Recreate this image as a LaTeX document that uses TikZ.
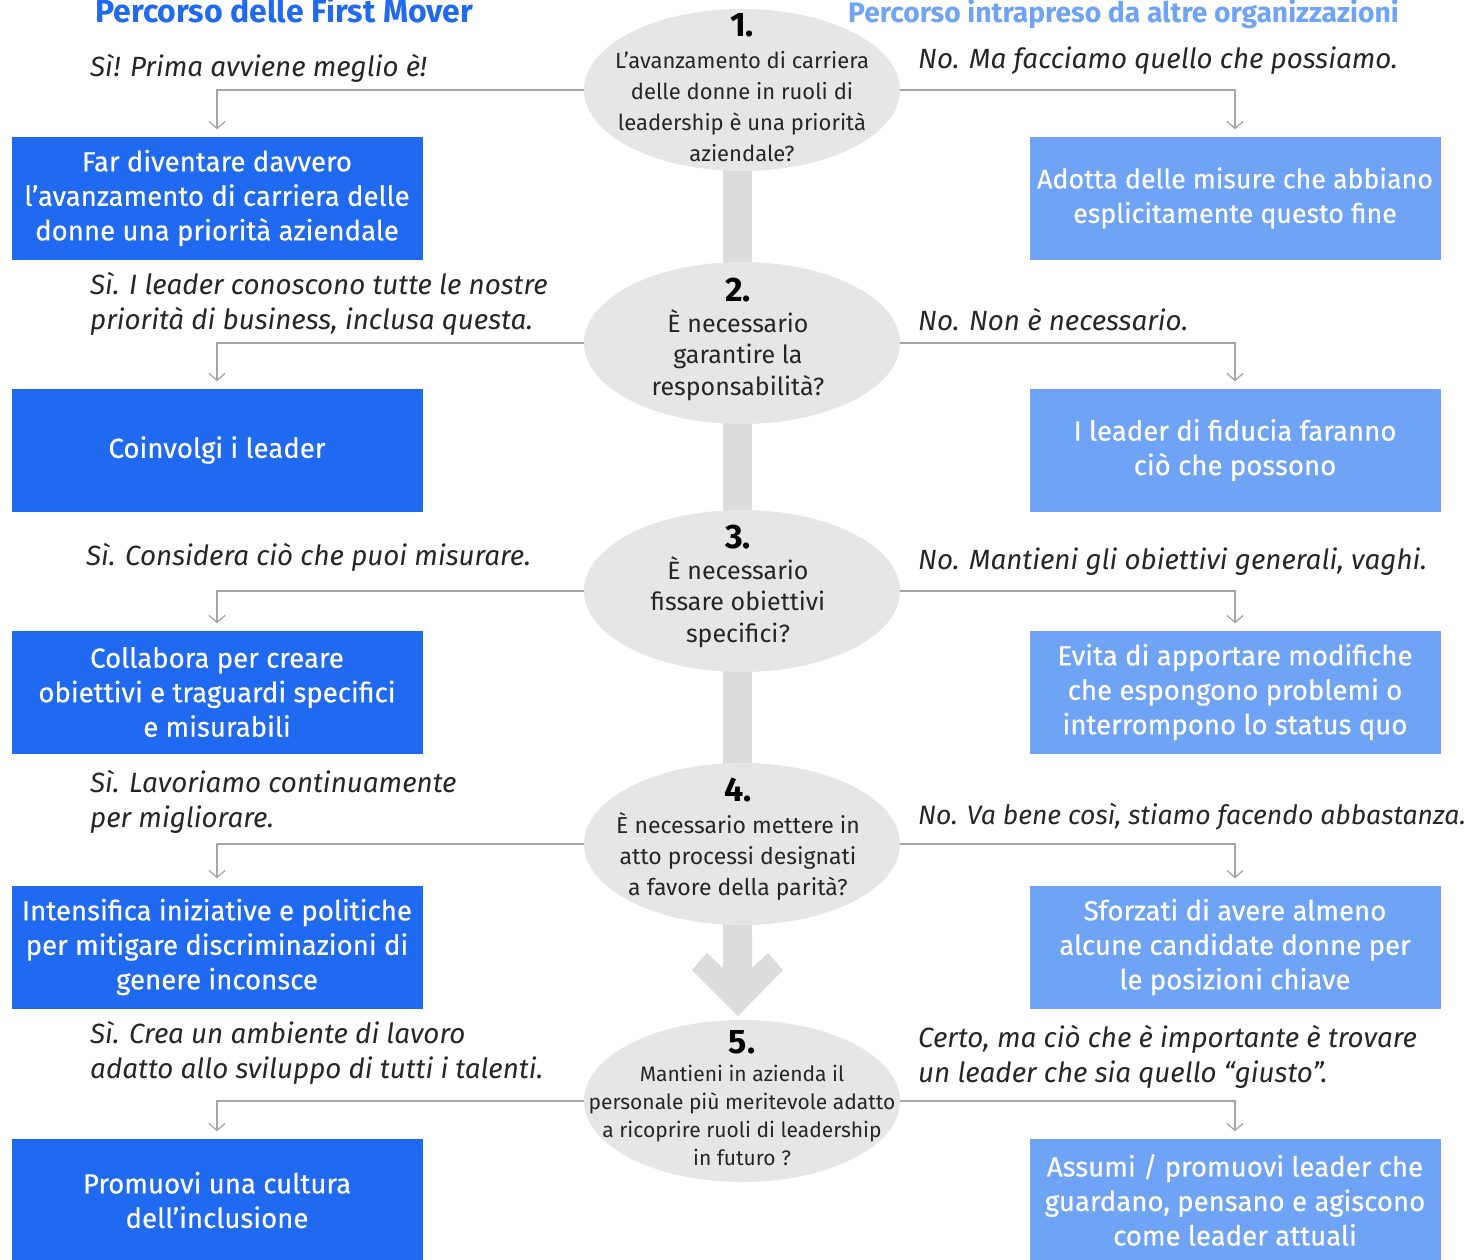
\documentclass[tikz,border=0pt]{standalone}
\usepackage{fontspec}
\setmainfont{Fira Sans}
\newfontfamily\medfont[FakeBold=0.5,Ligatures=TeX]{Fira Sans}
\usetikzlibrary{arrows.meta,shapes.geometric}
\definecolor{dblue}{HTML}{1F6AF0}
\definecolor{lblue}{HTML}{6FA3F5}
\definecolor{egray}{HTML}{E6E6E6}
\definecolor{tgray}{HTML}{DCDCDC}
\definecolor{lgray}{HTML}{A6A6A6}
\definecolor{txt}{HTML}{262626}
\begin{document}
\begin{tikzpicture}[x=1pt,y=-1pt,
 q/.style={ellipse,fill=egray,minimum width=316pt,minimum height=162pt,inner sep=0pt},
 qtext/.style={align=center,font=\fontsize{22}{31}\selectfont,text=txt,inner sep=0pt},
 qbig/.style={qtext,font=\fontsize{25}{31.5}\selectfont},
 qmid/.style={qtext,font=\fontsize{23}{31}\selectfont},
 qsmall/.style={qtext,font=\fontsize{21}{28}\selectfont},
 num/.style={font=\fontsize{34}{34}\selectfont\bfseries,inner sep=0pt},
 fm/.style={fill=dblue,minimum width=411pt,minimum height=123pt,text=white,align=center,font=\medfont\fontsize{27.6}{34.5}\selectfont,inner sep=0pt},
 ot/.style={fm,fill=lblue},
 lab/.style={anchor=west,align=left,font=\fontsize{27.8}{34.5}\selectfont\itshape,text=txt,inner sep=0pt},
 conn/.style={draw=lgray,line width=1.3pt,-{Straight Barb[length=7pt,width=16pt]},shorten >=7pt},
 hdr/.style={inner sep=0pt,anchor=base west}
]
\useasboundingbox (0,0) rectangle (1465,1259);
\fill[white] (0,0) rectangle (1465,1259);

% headers
\node[hdr,text=dblue,font=\fontsize{32}{32}\selectfont\bfseries] (h1) at (95,22) {Percorso delle First Mover};
\node[hdr,text=lblue,font=\fontsize{28.2}{28.2}\selectfont\bfseries] (h2) at (848,22) {Percorso intrapreso da altre organizzazioni};

% trunk
\fill[tgray] (723,150) rectangle (752,935);
\fill[tgray] (723,930) -- (723,968) -- (707,953) -- (692,970) -- (738,1016) -- (783,970) -- (768,953) -- (752,968) -- (752,930) -- cycle;

% ellipses
\node[q] (e1) at (742,90) {};
\node[q] (e2) at (742,343) {};
\node[q] (e3) at (742,591) {};
\node[q] (e4) at (742,844) {};
\node[q] (e5) at (742,1101) {};

\node[num] (n1) at (742,25) {1.};
\node[num] (n2) at (738,290) {2.};
\node[num] (n3) at (738,537) {3.};
\node[num] (n4) at (738,790) {4.};
\node[num] (n5) at (742,1042) {5.};

\node[qtext] (t1) at (742,107) {L’avanzamento di carriera\\delle donne in ruoli di\\leadership è una priorità\\aziendale?};
\node[qbig] (t2) at (738,355) {È necessario\\garantire la\\responsabilità?};
\node[qbig] (t3) at (738,602) {È necessario\\fissare obiettivi\\specifici?};
\node[qmid] (t4) at (738,856) {È necessario mettere in\\atto processi designati\\a favore della parità?};
\node[qsmall] (t5) at (742,1115) {Mantieni in azienda il\\personale più meritevole adatto\\a ricoprire ruoli di leadership\\in futuro ?};

% boxes
\node[fm] (L1) at (217,198) {Far diventare davvero\\l’avanzamento di carriera delle\\donne una priorità aziendale};
\node[fm] (L2) at (217,450) {Coinvolgi i leader};
\node[fm] (L3) at (217,692) {Collabora per creare\\obiettivi e traguardi specifici\\e misurabili};
\node[fm] (L4) at (217,947) {Intensifica iniziative e politiche\\per mitigare discriminazioni di\\genere inconsce};
\node[fm] (L5) at (217,1200) {Promuovi una cultura\\dell'inclusione};

\node[ot,font=\medfont\fontsize{26.8}{34.5}\selectfont] (R1) at (1235,198) {Adotta delle misure che abbiano\\esplicitamente questo fine};
\node[ot] (R2) at (1235,450) {I leader di fiducia faranno\\ciò che possono};
\node[ot] (R3) at (1235,692) {Evita di apportare modifiche\\che espongono problemi o\\interrompono lo status quo};
\node[ot] (R4) at (1235,947) {Sforzati di avere almeno\\alcune candidate donne per\\le posizioni chiave};
\node[ot] (R5) at (1235,1200) {Assumi / promuovi leader che\\guardano, pensano e agiscono\\come leader attuali};

% labels
\node[lab] (a1) at (90,68) {Sì! Prima avviene meglio è!};
\node[lab] (a2) at (90,304) {Sì. I leader conoscono tutte le nostre\\priorità di business, inclusa questa.};
\node[lab] (a3) at (86,557) {Sì. Considera ciò che puoi misurare.};
\node[lab] (a4) at (90,802) {Sì. Lavoriamo continuamente\\per migliorare.};
\node[lab] (a5) at (90,1053) {Sì. Crea un ambiente di lavoro\\adatto allo sviluppo di tutti i talenti.};

\node[lab] (b1) at (918,61) {No. Ma facciamo quello che possiamo.};
\node[lab] (b2) at (918,320) {No. Non è necessario.};
\node[lab] (b3) at (918,562) {No. Mantieni gli obiettivi generali, vaghi.};
\node[lab,font=\fontsize{26.6}{34.5}\selectfont\itshape] (b4) at (918,817) {No. Va bene così, stiamo facendo abbastanza.};
\node[lab] (b5) at (918,1057) {Certo, ma ciò che è importante è trovare\\un leader che sia quello “giusto”.};

% connectors
\foreach \i in {1,...,5}{
  \draw[conn] (e\i.west) -| (L\i.north);
  \draw[conn] (e\i.east) -| (R\i.north);
}
\end{tikzpicture}
\end{document}
